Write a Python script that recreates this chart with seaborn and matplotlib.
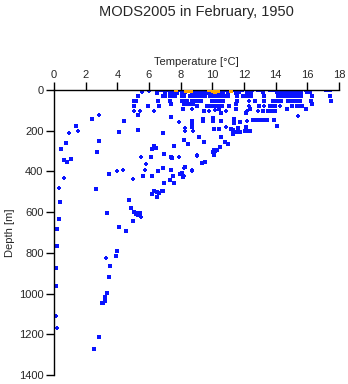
import matplotlib
matplotlib.use("Agg")
import matplotlib.pyplot as plt
import seaborn as sns

# Bottle samples taken on common standard levels: depth [m] -> temperatures [°C]
level_depths = [0, 8, 15, 28, 52, 70, 79, 95, 103, 147]
level_temps = [
    [6.0, 6.6, 6.8, 7.1, 7.2, 7.35, 7.5, 7.9, 8.05, 8.2, 8.65, 8.8, 8.95, 9.1,
     9.25, 9.4, 9.55, 9.7, 10.35, 10.5, 10.65, 10.8, 11.4, 11.55, 11.7, 11.85,
     12.4, 12.5, 12.9, 13.05, 13.2, 13.65, 13.8, 13.95, 14.1, 14.25, 14.4,
     14.55, 14.7, 14.85, 15.0, 15.15, 15.3, 15.45, 15.6, 15.9, 16.05, 16.2,
     17.2, 17.45],
    [7.0, 7.3, 8.1, 8.3, 8.7, 8.85, 9.0, 9.15, 9.3, 9.45, 9.6, 10.4, 10.55,
     10.7, 11.5, 11.7, 12.45, 13.2, 14.1, 14.25, 14.4, 14.55, 14.7, 14.85,
     15.0, 15.15, 15.3, 15.5, 16.0, 16.2],
    [6.5, 7.6, 7.75, 8.8, 9.0, 9.2, 9.4, 9.6, 9.8, 10.0, 10.5, 11.0, 11.5,
     12.2, 14.2, 14.4, 14.6, 14.8, 15.0, 15.2, 15.4, 15.6],
    [5.33, 6.9, 7.03, 7.3, 7.5, 7.65, 8.06, 8.2, 8.6, 8.75, 8.9, 9.1, 9.25,
     9.4, 9.55, 9.85, 10.0, 10.15, 10.3, 10.45, 10.6, 10.8, 11.0, 11.54,
     11.96, 12.1, 12.23, 12.45, 13.28, 14.17, 14.32, 14.5, 14.65, 14.8, 15.0,
     15.15, 15.3, 15.45, 15.6, 16.3, 17.46],
    [5.07, 5.2, 6.59, 7.33, 8.06, 8.2, 8.38, 8.7, 8.85, 9.0, 9.29, 9.96, 10.1,
     10.25, 10.4, 10.55, 10.7, 11.54, 12.69, 13.26, 13.85, 14.0, 14.17, 14.32,
     14.8, 14.95, 15.1, 15.25, 15.4, 15.55, 16.24, 17.48],
    [7.39, 8.2, 8.35, 8.5, 8.76, 11.5, 16.32],
    [5.07, 5.96, 6.65, 9.01, 9.69, 9.94, 10.1, 10.25, 10.4, 10.59, 11.07,
     12.95, 13.64, 13.8, 13.96, 15.0, 15.33, 15.5, 15.65],
    [8.17, 10.44, 11.5, 12.38, 14.7, 15.94],
    [9.48, 13.22, 13.54, 13.64, 13.8, 13.98],
    [12.55, 12.7, 12.85, 13.0, 13.15, 13.3, 13.47, 13.92],
]

# Bottle samples at individual depths: (temperature [°C], depth [m])
bottle_upper = [
    (5.33, 124), (10.53, 115), (12.13, 115), (7.37, 134), (10.06, 136),
    (10.06, 151), (9.43, 143), (9.43, 151), (10.53, 151), (10.44, 192),
    (11.37, 143), (11.37, 164), (11.75, 156), (14.1, 177), (8.72, 152),
    (8.72, 165), (8.72, 182), (11.2, 190), (11.3, 195), (12.07, 201),
    (12.28, 201), (11.29, 218), (11.3, 205), (11.45, 205), (11.6, 205),
    (11.75, 205), (12.38, 201), (11.64, 185), (12.13, 183), (10.1, 193),
    (10.44, 192), (10.53, 229), (9.16, 233), (6.9, 213), (4.1, 208),
    (4.42, 154), (5.33, 196), (1.37, 178), (2.38, 144),
]
bottle_middle = [
    (8.19, 247), (8.44, 267), (9.48, 257), (10.82, 254), (10.99, 265),
    (10.51, 281), (10.1, 295), (10.2, 300), (10.3, 297), (10.1, 318),
    (10.06, 305), (9.54, 352), (9.37, 360), (6.34, 273), (6.46, 287),
    (6.17, 290), (7.6, 277), (6.95, 316), (7.41, 331), (6.97, 316),
    (6.15, 331), (7.43, 332), (0.46, 291), (0.78, 262), (0.61, 344),
    (0.84, 352), (1.09, 337), (2.74, 306), (2.86, 252),
]
bottle_lower = [
    (6.59, 398), (6.89, 385), (7.41, 395), (8.06, 406), (7.54, 422),
    (7.33, 442), (6.97, 458), (7.6, 458), (6.19, 422), (5.64, 422),
    (7.96, 413), (8.13, 426), (8.25, 380), (6.34, 494), (6.5, 500),
    (6.65, 505), (6.8, 498), (6.87, 494), (6.48, 524), (6.21, 512),
    (6.57, 400), (3.5, 414), (2.67, 488), (4.72, 542), (4.86, 580),
    (5.07, 598), (5.01, 645), (5.2, 610), (5.3, 615), (5.25, 605),
    (5.4, 602), (3.37, 606), (4.13, 675), (4.55, 691), (0.36, 552),
    (0.34, 635), (0.21, 681),
]
bottle_deep = [
    (0.21, 766), (0.13, 873), (0.13, 961), (4.0, 793), (3.92, 817),
    (3.54, 863), (3.47, 920), (3.37, 999), (3.24, 1015), (3.24, 1035),
    (3.01, 1045), (3.1, 1045), (2.86, 1215), (2.55, 1274),
]

# Profiler casts (plus signs): (temperature [°C], depth [m])
profiler = [
    (2.84, 123), (1.52, 203), (0.95, 213), (0.63, 434), (0.32, 483),
    (3.96, 400), (4.36, 395), (4.99, 439), (3.26, 827), (5.05, 105),
    (5.43, 105), (5.56, 11), (5.48, 331), (7.9, 331), (7.9, 159),
    (8.25, 188), (8.25, 200), (8.7, 395), (8.8, 200), (9.01, 321),
    (6.32, 103), (12.07, 201), (12.17, 154), (15.39, 128), (10.84, 180),
    (8.7, 95), (9.81, 103), (10.17, 98), (10.87, 103), (12.17, 103),
    (12.34, 79), (12.34, 52), (12.91, 103), (13.26, 79), (14.28, 79),
    (0.19, 1171), (0.1, 1112), (5.45, 612), (5.5, 622), (5.79, 365),
    (5.75, 393), (8.19, 381), (8.23, 422), (8.7, 396), (6.02, 3),
    (9.03, 323), (5.43, 608),
]

# Flagged surface samples (orange): (temperature [°C], depth [m])
flagged = [
    (7.7, 0), (8.35, 3), (8.5, 6), (8.65, 3), (9.8, 0), (10.05, 6),
    (10.2, 9), (10.35, 6), (11.2, 6),
]

sq_temp, sq_depth = [], []
for d, row in zip(level_depths, level_temps):
    sq_temp += row
    sq_depth += [d] * len(row)
for group in (bottle_upper, bottle_middle, bottle_lower, bottle_deep):
    sq_temp += [t for t, _ in group]
    sq_depth += [d for _, d in group]

sns.set_theme(style="white")
plt.rcParams["font.family"] = ["Liberation Sans", "DejaVu Sans"]

fig = plt.figure(figsize=(3.48, 3.84), dpi=100)
ax = fig.add_axes([54 / 348, 1 - 375 / 384, 285 / 348, 285 / 384])

blue = "#0a14ff"
sns.scatterplot(x=sq_temp, y=sq_depth, ax=ax, marker="s", s=5,
                color=blue, linewidth=0)
sns.scatterplot(x=[t for t, _ in profiler], y=[d for _, d in profiler],
                ax=ax, marker="P", s=10, color=blue, linewidth=0)
sns.scatterplot(x=[t for t, _ in flagged], y=[d for _, d in flagged],
                ax=ax, marker="s", s=9, color="#ffa500", linewidth=0,
                zorder=5)

ax.set_xlim(0, 18)
ax.set_ylim(1400, 0)
ax.set_xticks(range(0, 19, 2))
ax.set_yticks(range(0, 1401, 200))
ax.xaxis.tick_top()
ax.xaxis.set_label_position("top")
ax.tick_params(axis="both", which="major", direction="out", length=6,
               width=1, color="black", labelsize=8, pad=1.5,
               top=True, bottom=False, left=True, right=False)
for side in ("right", "bottom"):
    ax.spines[side].set_visible(False)
for side in ("top", "left"):
    ax.spines[side].set_color("black")
    ax.spines[side].set_linewidth(1)
ax.set_xlabel("Temperature [°C]", fontsize=8, labelpad=3)
ax.set_ylabel("Depth [m]", fontsize=8, labelpad=3)
ax.set_facecolor("white")

fig.text(196 / 348, 1 - 12 / 384, "MODS2005 in February, 1950",
         ha="center", va="center", fontsize=10.5)

fig.savefig("out.png", dpi=100, facecolor="white")
